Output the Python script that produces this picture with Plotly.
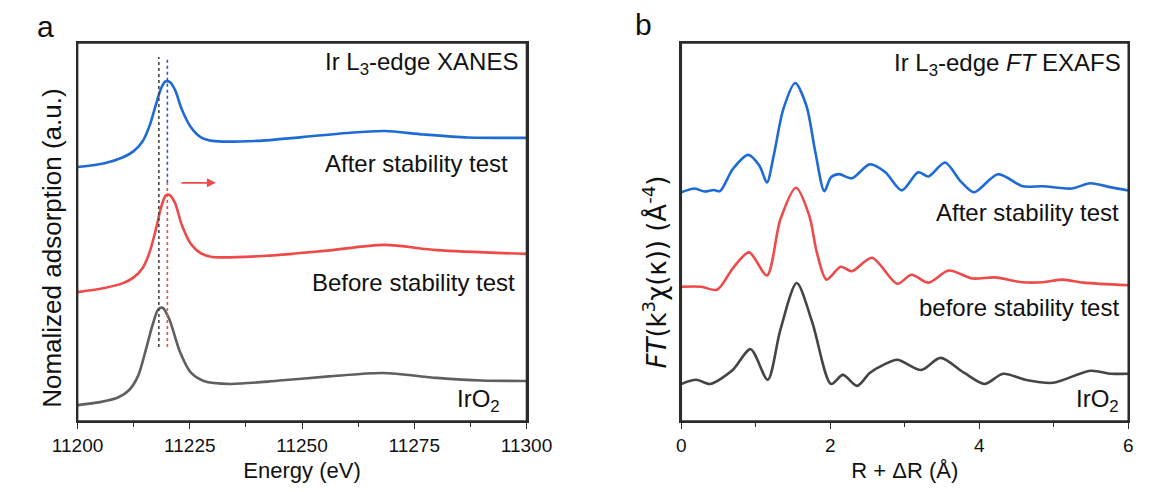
import plotly.graph_objects as go

# ---------------- Panel a : Ir L3-edge XANES ----------------
E_after = [11200, 11206, 11210, 11212.5, 11214.5, 11216.0, 11217.4, 11218.6, 11219.5, 11220.5, 11221.7,
           11223.2, 11225.1, 11227.4, 11230, 11240, 11250, 11260, 11268.4, 11277, 11287, 11300]
A_after = [6.72, 6.82, 6.97, 7.14, 7.40, 7.80, 8.35, 8.80, 8.98, 8.97, 8.76,
           8.25, 7.80, 7.51, 7.41, 7.41, 7.51, 7.62, 7.67, 7.58, 7.50, 7.49]

E_before = [11200, 11206, 11210, 11212.5, 11214.5, 11216.0, 11217.4, 11218.6, 11219.6, 11220.5, 11221.7,
            11223.2, 11225.1, 11227.4, 11230, 11242, 11255, 11268.4, 11280, 11300]
A_before = [3.41, 3.52, 3.64, 3.80, 4.05, 4.45, 5.05, 5.65, 5.96, 5.98, 5.77,
            5.19, 4.71, 4.44, 4.34, 4.37, 4.50, 4.66, 4.52, 4.42]

E_iro2 = [11200, 11205, 11209, 11211.5, 11213.5, 11215.2, 11216.7, 11218.0, 11219.0, 11220.5, 11222.8,
          11225.1, 11228.1, 11234, 11245, 11256, 11268, 11280, 11290, 11300]
A_iro2 = [0.42, 0.50, 0.62, 0.82, 1.20, 1.88, 2.54, 2.96, 2.99, 2.67, 1.83,
          1.30, 1.06, 0.98, 1.07, 1.18, 1.27, 1.14, 1.07, 1.06]

# edge-position guide lines (energy, lower / upper level)
E_edge_iro2 = 11218.1
E_edge_sample = 11220.0
guide_low, guide_split, guide_top = 1.96, 6.30, 9.63
# shift arrow
arrow_E = [11222.8, 11230.8]
arrow_level = 6.30

# ---------------- Panel b : FT EXAFS ----------------
R_after = [0, 0.18, 0.31, 0.44, 0.52, 0.69, 0.90, 1.05, 1.15, 1.24, 1.37, 1.53, 1.68, 1.80, 1.92,
           2.01, 2.12, 2.29, 2.53, 2.74, 2.96, 3.18, 3.32, 3.54, 3.75, 3.93, 4.25, 4.58, 4.85,
           5.24, 5.49, 5.77, 6.0]
F_after = [6.05, 6.15, 6.07, 6.11, 6.08, 6.66, 7.04, 6.75, 6.31, 7.01, 8.25, 8.94, 8.34, 7.11, 6.08,
           6.45, 6.53, 6.42, 6.79, 6.58, 6.10, 6.58, 6.47, 6.84, 6.34, 6.05, 6.53, 6.21, 6.21,
           6.15, 6.29, 6.18, 6.10]

R_before = [0, 0.27, 0.48, 0.70, 0.91, 1.15, 1.33, 1.54, 1.72, 1.82, 1.95, 2.14, 2.29, 2.56, 2.90,
            3.09, 3.32, 3.59, 3.91, 4.21, 4.58, 4.85, 5.12, 5.40, 6.0]
F_before = [3.55, 3.55, 3.47, 4.06, 4.46, 3.85, 5.33, 6.17, 5.42, 4.46, 3.74, 4.08, 3.96, 4.32, 3.63,
            3.87, 3.66, 3.98, 3.77, 3.80, 3.67, 3.67, 3.74, 3.66, 3.59]

R_iro2 = [0, 0.20, 0.39, 0.69, 0.93, 1.16, 1.33, 1.55, 1.76, 2.01, 2.17, 2.36, 2.53, 2.72, 2.90,
          3.22, 3.48, 3.80, 4.07, 4.32, 4.62, 4.99, 5.49, 5.77, 6.0]
F_iro2 = [0.98, 1.09, 0.98, 1.35, 1.90, 1.09, 2.41, 3.65, 2.60, 0.98, 1.22, 0.93, 1.27, 1.49, 1.62,
          1.35, 1.67, 1.27, 0.98, 1.25, 1.09, 1.01, 1.33, 1.25, 1.25]

E_ticks = [11200, 11225, 11250, 11275, 11300]
R_ticks = [0, 2, 4, 6]

BLUE = "#1f6bd6"
RED = "#ee4a4a"
GRAY_A = "#5f5f5f"
GRAY_B = "#454545"
FONT = "Liberation Sans, Arial, sans-serif"
FRAME = "#2b2b2b"

fig = go.Figure()


def curve(x, y, color, xa, ya):
    fig.add_trace(go.Scatter(x=x, y=y, mode="lines", xaxis=xa, yaxis=ya,
                             line=dict(color=color, width=2.6, shape="spline", smoothing=0.8),
                             hoverinfo="skip", showlegend=False))


curve(E_after, A_after, BLUE, "x", "y")
curve(E_before, A_before, RED, "x", "y")
curve(E_iro2, A_iro2, GRAY_A, "x", "y")

# guide lines
for xs, ys, col in [([E_edge_iro2, E_edge_iro2], [guide_low, guide_top], "#444444"),
                    ([E_edge_sample, E_edge_sample], [guide_split, guide_top], "#3050e0"),
                    ([E_edge_sample, E_edge_sample], [guide_low, guide_split], "#ee4a4a")]:
    fig.add_trace(go.Scatter(x=xs, y=ys, mode="lines", xaxis="x", yaxis="y",
                             line=dict(color=col, width=1.6, dash="dot"),
                             hoverinfo="skip", showlegend=False))

curve(R_after, F_after, BLUE, "x2", "y2")
curve(R_before, F_before, RED, "x2", "y2")
curve(R_iro2, F_iro2, GRAY_B, "x2", "y2")

W, H = 1160, 492
ax_a = [54 / W, 524 / W]
ax_b = [686 / W, 1154 / W]
ydom = [(H - 421) / H, (H - 43) / H]

common_x = dict(showline=True, linecolor=FRAME, linewidth=1.6, mirror=True,
                ticks="outside", ticklen=6, tickwidth=1.4, tickcolor=FRAME,
                showgrid=False, zeroline=False,
                tickfont=dict(family=FONT, size=19, color="#111111"),
                title_font=dict(family=FONT, size=22, color="#111111"), title_standoff=8)
common_y = dict(showline=True, linecolor=FRAME, linewidth=1.6, mirror=True,
                ticks="", showticklabels=False, showgrid=False, zeroline=False,
                range=[0, 10])

fig.update_layout(
    width=W, height=H, margin=dict(l=0, r=0, t=0, b=0),
    paper_bgcolor="white", plot_bgcolor="white",
    xaxis=dict(domain=ax_a, range=[11200, 11300], tickvals=E_ticks,
               ticktext=[str(v) for v in E_ticks],
               minor=dict(ticks="outside", ticklen=4, tickwidth=1.4, tickcolor=FRAME, dtick=12.5,
                          tick0=11200),
               title_text="Energy (eV)", anchor="y", **common_x),
    yaxis=dict(domain=ydom, anchor="x", **common_y),
    xaxis2=dict(domain=ax_b, range=[0, 6], tickvals=R_ticks, ticktext=[str(v) for v in R_ticks],
                minor=dict(ticks="outside", ticklen=4, tickwidth=1.4, tickcolor=FRAME, dtick=1, tick0=0),
                title_text="R + ΔR (Å)", anchor="y2", **common_x),
    yaxis2=dict(domain=ydom, anchor="x2", **common_y),
)

# plot frames (paper coordinates of the two plot areas)
for dom in (ax_a, ax_b):
    fig.add_shape(type="rect", xref="paper", yref="paper", x0=dom[0], x1=dom[1],
                  y0=ydom[0], y1=ydom[1],
                  line=dict(color=FRAME, width=1.6), fillcolor="rgba(0,0,0,0)", layer="above")

ann_font = dict(family=FONT, size=24, color="#111111")


def txt(x, y, s, anchor="right", font=ann_font, angle=0):
    fig.add_annotation(x=x / W, y=1 - y / H, xref="paper", yref="paper", text=s, showarrow=False,
                       xanchor=anchor, yanchor="middle", font=font, textangle=angle)


txt(517, 63, "Ir L<sub>3</sub>-edge XANES")
txt(507, 163, "After stability test")
txt(514, 282, "Before stability test")
txt(498, 400, "IrO<sub>2</sub>")
txt(1148, 65, "Ir L<sub>3</sub>-edge <i>FT</i> EXAFS")
txt(1146, 213, "After stability test")
txt(1146, 307, "before stability test")
txt(1146, 400, "IrO<sub>2</sub>")
txt(20, 26, "a", anchor="center", font=dict(family=FONT, size=30, color="#111111"))
txt(647, 24, "b", anchor="center", font=dict(family=FONT, size=30, color="#111111"))
txt(27, 248, "Nomalized adsorption (a.u.)", anchor="center",
    font=dict(family=FONT, size=26, color="#111111"), angle=-90)
txt(659, 272, "<i>FT</i>(k<sup>3</sup>χ(κ)) (Å<sup>-4</sup>)", anchor="center",
    font=dict(family="DejaVu Sans, Liberation Sans, sans-serif", size=26, color="#111111"), angle=-90)

# shift arrow
fig.add_annotation(x=arrow_E[1], y=arrow_level, ax=arrow_E[0], ay=arrow_level,
                   xref="x", yref="y", axref="x", ayref="y", text="", showarrow=True,
                   arrowhead=2, arrowsize=1, arrowwidth=1.8, arrowcolor=RED)

fig.write_html("out.html")
